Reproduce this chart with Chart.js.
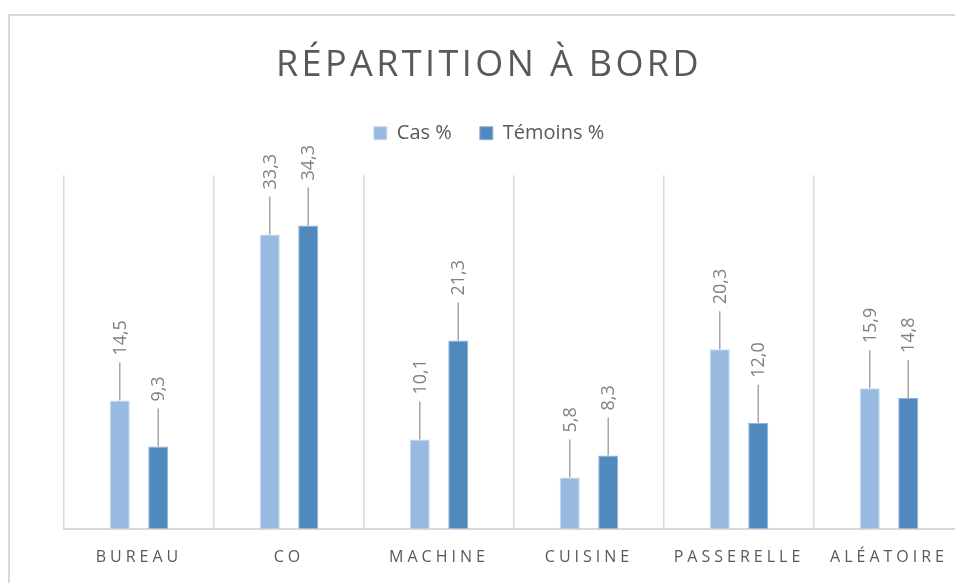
<!DOCTYPE html>
<html>
<head>
<meta charset="utf-8">
<script src="https://cdn.jsdelivr.net/npm/chart.js@4/dist/chart.umd.min.js"></script>
<style>
  html, body { margin: 0; padding: 0; background: #ffffff; overflow: hidden; width: 955px; height: 583px; }
  #frame { position: absolute; left: 8px; top: 14px; width: 1100px; height: 700px; border-top: 2px solid #d9d9d9; border-left: 2px solid #d9d9d9; box-sizing: border-box; }
  #wrap { position: absolute; left: 0; top: 0; width: 1000px; height: 603px; }
</style>
</head>
<body>
<div id="frame"></div>
<div id="wrap"><canvas id="c" width="1000" height="603"></canvas></div>
<script>
const categories = ['BUREAU', 'CO', 'MACHINE', 'CUISINE', 'PASSERELLE', 'ALÉATOIRE'];
const casValues = [14.5, 33.3, 10.1, 5.8, 20.3, 15.9];
const temoinsValues = [9.3, 34.3, 21.3, 8.3, 12.0, 14.8];
const seriesNames = ['Cas %', 'Témoins %'];
const chartTitle = 'RÉPARTITION À BORD';

const FONT = "'Open Sans', 'DejaVu Sans', sans-serif";

const tweaks = {
  id: 'tweaks',
  beforeLayout(chart) {
    if (chart.$patched) return;
    chart.$patched = true;
    const lg = chart.legend;
    if (lg) {
      const fit = lg.fit;
      lg.fit = function () { fit.call(this); this.height += 22; };
    }
    const tb = chart.titleBlock;
    if (tb) {
      const d = tb.draw;
      tb.draw = function () {
        const ctx = this.ctx; ctx.save(); ctx.letterSpacing = '3.4px'; d.apply(this, arguments); ctx.restore();
      };
    }
  },
  afterLayout(chart) {
    const xs = chart.scales.x;
    if (xs && !xs.$patched) {
      xs.$patched = true;
      const dl = xs.drawLabels;
      xs.drawLabels = function () {
        const ctx = this.ctx; ctx.save(); ctx.letterSpacing = '4px'; dl.apply(this, arguments); ctx.restore();
      };
    }
  },
  afterDatasetsDraw(chart) {
    const ctx = chart.ctx;
    chart.data.datasets.forEach((ds, di) => {
      const meta = chart.getDatasetMeta(di);
      meta.data.forEach((bar, i) => {
        const v = ds.data[i];
        const x = bar.x, top = bar.y;
        const lineLen = 38;
        ctx.save();
        ctx.strokeStyle = '#a6a6a6';
        ctx.lineWidth = 1.5;
        ctx.beginPath();
        ctx.moveTo(x, top);
        ctx.lineTo(x, top - lineLen);
        ctx.stroke();
        ctx.translate(x + 1, top - lineLen - 7);
        ctx.rotate(-Math.PI / 2);
        ctx.font = '18px ' + FONT;
        ctx.fillStyle = '#808080';
        ctx.textAlign = 'left';
        ctx.textBaseline = 'middle';
        ctx.fillText(v.toFixed(1).replace('.', ','), 0, 0);
        ctx.restore();
      });
    });
  }
};

new Chart(document.getElementById('c'), {
  type: 'bar',
  data: {
    labels: categories,
    datasets: [
      { label: seriesNames[0], data: casValues, backgroundColor: '#98b9e0', borderColor: '#c9dbef', borderWidth: 1,
        categoryPercentage: 0.513, barPercentage: 0.52 },
      { label: seriesNames[1], data: temoinsValues, backgroundColor: '#4f89bd', borderColor: '#8fb3d6', borderWidth: 1,
        categoryPercentage: 0.513, barPercentage: 0.52 }
    ]
  },
  options: {
    responsive: false,
    animation: false,
    devicePixelRatio: 1,
    layout: { padding: { left: 8, right: 30, top: 0, bottom: 17 } },
    plugins: {
      title: {
        display: true, text: chartTitle, color: '#595959',
        font: { family: FONT, size: 36, weight: 'normal' },
        padding: { top: 44, bottom: 8 }
      },
      legend: {
        display: true, position: 'top',
        labels: { boxWidth: 13, boxHeight: 13, color: '#595959', padding: 28,
          font: { family: FONT, size: 20 } }
      },
      tooltip: { enabled: false }
    },
    scales: {
      x: {
        offset: true,
        grid: { display: true, offset: true, color: '#d9d9d9', lineWidth: 1.5, drawTicks: false },
        border: { display: true, color: '#d9d9d9', width: 2 },
        ticks: { color: '#595959', padding: 19, font: { family: FONT, size: 16 } }
      },
      y: {
        min: 0, max: 40,
        grid: { display: false },
        border: { display: false },
        ticks: { display: false },
        afterFit(s) { s.width = 56; }
      },
      y2: {
        position: 'right', min: 0, max: 1,
        grid: { display: false },
        border: { display: false },
        ticks: { display: false },
        afterFit(s) { s.width = 6; }
      }
    }
  },
  plugins: [tweaks]
});
</script>
</body>
</html>
